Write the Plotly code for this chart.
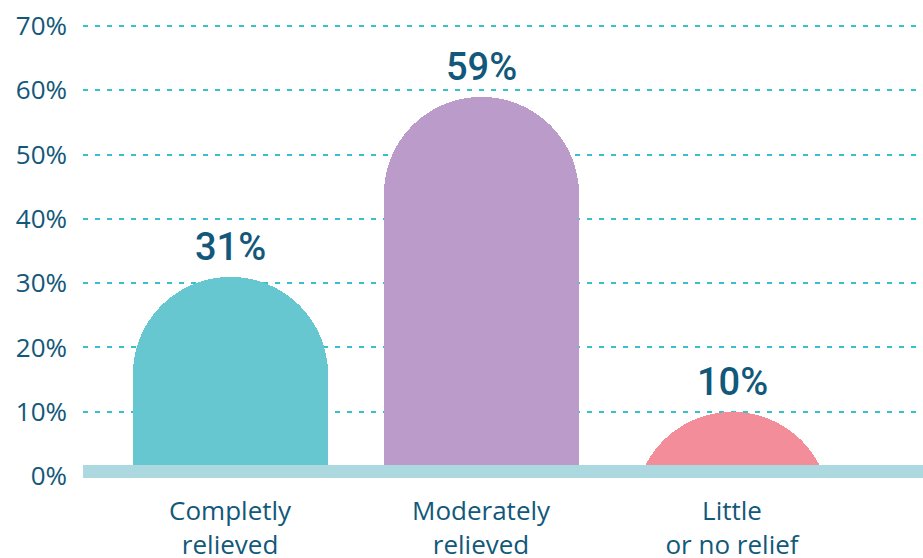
import plotly.graph_objects as go

categories = ["Completly<br>relieved", "Moderately<br>relieved", "Little<br>or no relief"]
values = [31, 59, 10]
value_labels = ["31%", "59%", "10%"]
bar_colors = ["#67c7d0", "#bb9bc9", "#f38d99"]
y_ticks = [0, 10, 20, 30, 40, 50, 60, 70]
y_tick_text = ["0%", "10%", "20%", "30%", "40%", "50%", "60%", "70%"]

TEXT = "#12587a"
BAR_BASE = -30  # bars start below the visible area; the clipped part keeps full round tops

fig = go.Figure()
fig.add_trace(go.Bar(
    x=categories, y=[v - BAR_BASE for v in values], base=BAR_BASE,
    marker=dict(color=bar_colors, cornerradius="50%", line=dict(width=0)),
    width=0.777,
    hoverinfo="skip",
))

for c, v, t in zip(categories, values, value_labels):
    fig.add_annotation(x=c, y=v, text=t, showarrow=False, yanchor="bottom",
                       yshift=6, font=dict(family="Roboto", size=38, color=TEXT, weight=500))

# baseline band
fig.add_shape(type="rect", xref="paper", x0=0, x1=1, yref="y", y0=-1, y1=1.7,
              fillcolor="#acd8e0", line=dict(width=0), layer="above")

fig.update_layout(
    width=923, height=558,
    margin=dict(l=83, r=0, t=0, b=80, autoexpand=False),
    paper_bgcolor="white", plot_bgcolor="white",
    showlegend=False,
    bargap=0,
)
fig.update_yaxes(
    range=[-0.31, 74.06], tickvals=y_ticks, ticktext=y_tick_text, automargin=False,
    showgrid=True, gridcolor="#35c3c9", gridwidth=2, griddash="5px,7px",
    zeroline=False, showline=False, ticks="", ticklabelstandoff=15,
    tickfont=dict(family="Open Sans", size=26, color=TEXT),
)
fig.update_xaxes(
    type="category", range=[-0.586, 2.761], showgrid=False, zeroline=False,
    showline=False, ticks="", ticklabelstandoff=15, automargin=False,
    tickfont=dict(family="Open Sans", size=26, color=TEXT),
)

fig.write_html("out.html", config={"displayModeBar": False},
               post_script="document.body.style.margin='0';document.body.style.overflow='hidden';")
